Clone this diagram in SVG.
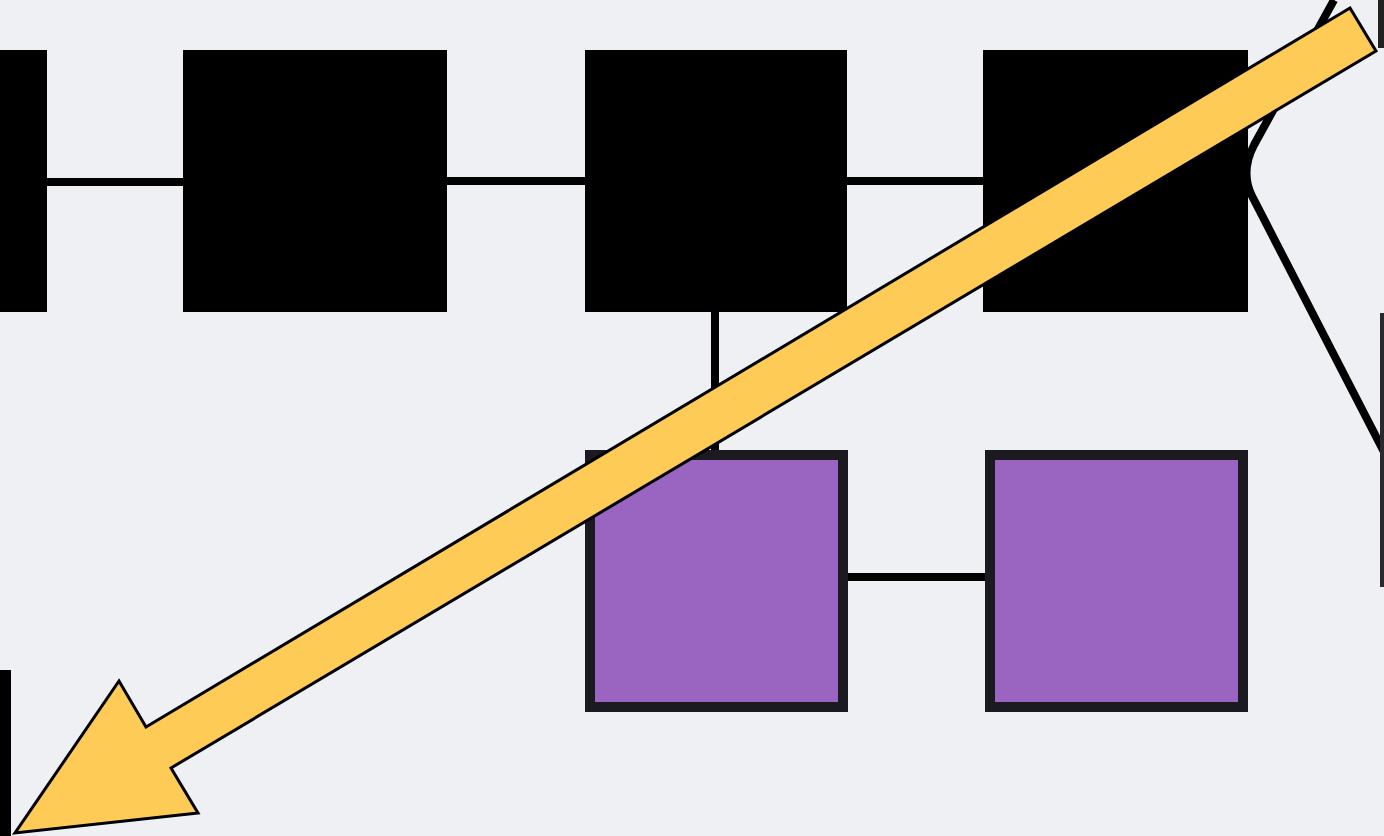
<svg xmlns="http://www.w3.org/2000/svg" width="1384" height="836" viewBox="0 0 1384 836">
<style>
.blk{fill:#000}
.pur{fill:#9965c1;stroke:#1b1a20;stroke-width:10}
.con{stroke:#000;stroke-width:8;fill:none}
.arrow{fill:#fecb57;stroke:#000;stroke-width:3;stroke-linejoin:miter}
</style>
<rect width="1384" height="836" fill="#eef0f4"/>
<g id="connectors">
<line class="con" x1="45" y1="182" x2="185" y2="182"/>
<line class="con" x1="445" y1="181" x2="587" y2="181"/>
<line class="con" x1="845" y1="181" x2="985" y2="181"/>
<line class="con" x1="715" y1="310" x2="715" y2="455"/>
<line class="con" x1="845" y1="577" x2="987" y2="577"/>
<path class="con" d="M1334,0 L1254,145 Q1240,172 1252,196 L1384,452" stroke-width="7"/>
</g>
<g id="node-a"><rect class="blk" x="0" y="50" width="47" height="262"/></g>
<g id="node-b"><rect class="blk" x="183" y="50" width="264" height="262"/></g>
<g id="node-c"><rect class="blk" x="585" y="50" width="262" height="262"/></g>
<g id="node-d"><rect class="blk" x="983" y="50" width="265" height="262"/></g>
<g id="node-e"><rect class="pur" x="590" y="455" width="253" height="252"/></g>
<g id="node-f"><rect class="pur" x="990" y="455" width="253" height="252"/></g>
<g id="node-g"><rect x="1380" y="313" width="8" height="274" fill="#2a2a2e"/></g>
<g id="node-h"><rect x="1378" y="0" width="8" height="48" fill="#222"/></g>
<g id="node-i"><rect class="blk" x="0" y="670" width="11" height="170"/></g>
<g id="arrow">
<polygon class="arrow" points="1350,8 1376,51 171,768 198,813 15,833 119,681 146,727"/>
</g>
</svg>
